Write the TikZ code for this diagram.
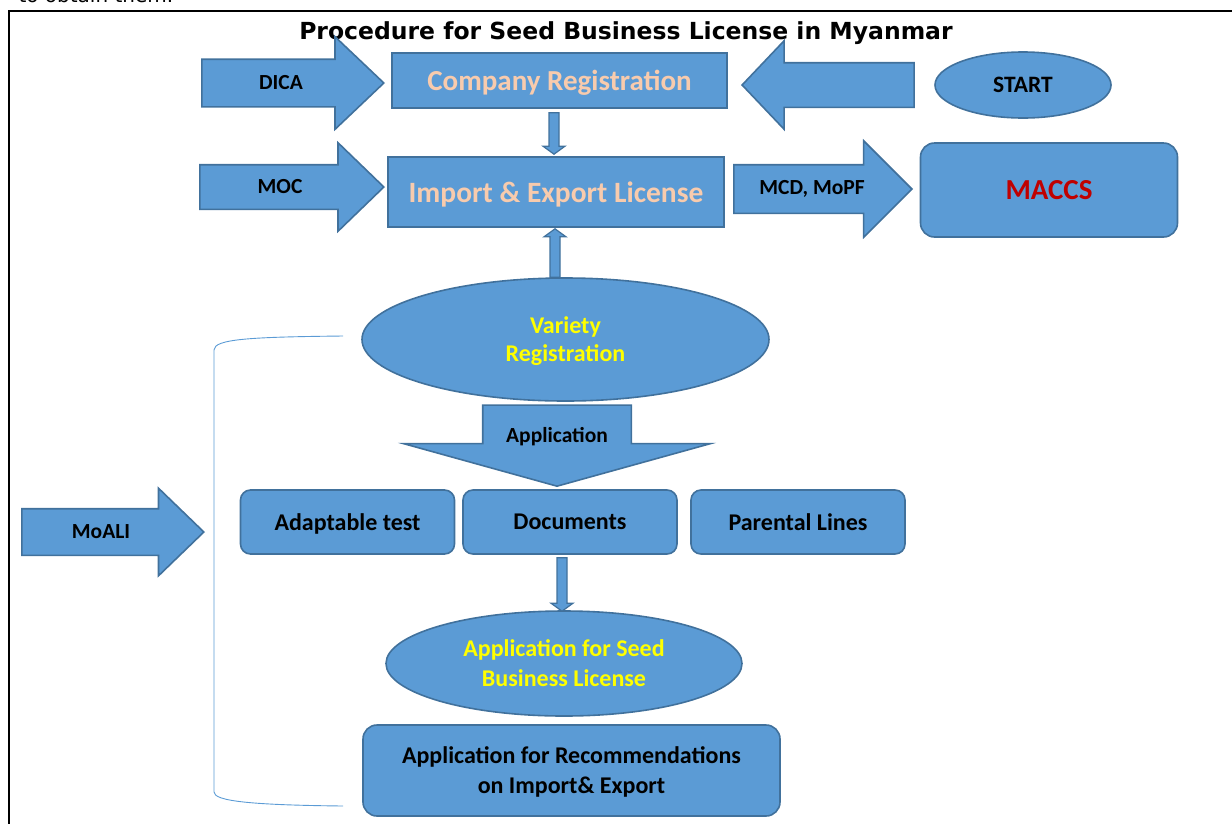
\documentclass[tikz,border=0pt]{standalone}
\usepackage{fontspec}
\setmainfont{Carlito}
\newfontfamily\titlefont{DejaVu Sans}
\usetikzlibrary{positioning,calc,shapes.geometric,shapes.arrows}

\definecolor{boxblue}{HTML}{5B9BD5}
\definecolor{boxedge}{HTML}{41719C}
\definecolor{peach}{HTML}{F8CBAD}
\definecolor{maccsred}{HTML}{C00000}
\definecolor{textyellow}{HTML}{FFFF00}

% small block arrow from #1 to #2
\newcommand{\blockconn}[2]{%
  \coordinate (hb) at ($(#2)!8pt!(#1)$);
  \path[conn] ($(#1)!5pt!-90:(#2)$) -- ($(hb)!5pt!-90:(#2)$) -- ($(hb)!11pt!-90:(#2)$) -- (#2)
    -- ($(hb)!11pt!90:(#2)$) -- ($(hb)!5pt!90:(#2)$) -- ($(#1)!5pt!90:(#2)$) -- cycle;}

\begin{document}
\begin{tikzpicture}[x=1pt,y=-1pt,on grid,
    box/.style={rectangle, fill=boxblue, draw=boxedge, line width=1.6pt, inner sep=0pt, text depth=0pt},
    rbox/.style={box, rounded corners=10pt, minimum width=214pt, minimum height=64pt,
      font=\bfseries\fontsize{24}{28}\selectfont},
    oval/.style={ellipse, fill=boxblue, draw=boxedge, line width=1.6pt, inner sep=0pt, text depth=0pt},
    bigarrow/.style={single arrow, fill=boxblue, draw=boxedge, line width=1.6pt,
      inner xsep=0pt, anchor=tip},
    arrowtext/.style={font=\bfseries\fontsize{21.5}{24}\selectfont},
    conn/.style={fill=boxblue, draw=boxedge, line width=1.2pt},
    bracket/.style={draw=boxblue, line width=0.9pt}]
\useasboundingbox (0,0) rectangle (1232,823);
\draw[line width=2.7pt] (9,840) -- (9,11) -- (1240,11);
\node[anchor=base west, font=\titlefont\fontsize{20}{24}\selectfont] (cut) at (15,2) {to obtain them.};
\node[anchor=base, font=\titlefont\bfseries\fontsize{23.5}{28}\selectfont] (title) at (626,39)
  {Procedure for Seed Business License in Myanmar};

% licences
\node[box, minimum width=335pt, minimum height=55pt, text=peach,
  font=\bfseries\fontsize{29}{34}\selectfont] (compreg) at (559.5,80.5) {Company Registration};
\node[box, minimum width=336pt, minimum height=70pt, text=peach,
  font=\bfseries\fontsize{29.5}{34}\selectfont] (impexp) at (556,192) {Import \& Export License};
\node[box, rounded corners=14pt, minimum width=257pt, minimum height=94pt, text=maccsred,
  font=\bfseries\fontsize{29}{34}\selectfont] (maccs) at (1049,190) {MACCS};
\node[oval, minimum width=176pt, minimum height=66pt,
  font=\bfseries\fontsize{23.5}{26}\selectfont] (start) at (1023,85) {START};

% variety part
\node[oval, minimum width=407pt, minimum height=123pt, text=textyellow, align=center,
  font=\bfseries\fontsize{24}{28}\selectfont] (variety) at (565.5,339.5) {Variety\\Registration};
\node[rbox] (docs) at (570,522) {Documents};
\node[rbox] (adapt) [left=222.5pt of docs] {Adaptable test};
\node[rbox] (parental) [right=228pt of docs] {Parental Lines};
\node[oval, minimum width=356pt, minimum height=105pt, text=textyellow, align=center,
  font=\bfseries\fontsize{24}{30}\selectfont] (seed) at (564,663.5) {Application for Seed\\Business License};
\node[rbox, rounded corners=14pt, minimum width=417pt, minimum height=91pt, align=center,
  font=\bfseries\fontsize{24}{30}\selectfont] (recomm) at (571.5,770.5)
  {Application for Recommendations\\on Import\& Export};

% block arrows
\node[bigarrow, minimum height=182pt, minimum width=91pt, inner ysep=23pt,
  single arrow head extend=22.5pt, single arrow tip angle=87] (dica) at (385,83) {};
\node[bigarrow, shape border rotate=180, minimum height=172pt, minimum width=87pt, inner ysep=21.5pt,
  single arrow head extend=22pt, single arrow tip angle=93] (startarr) at (741,85) {};
\node[bigarrow, minimum height=184pt, minimum width=87pt, inner ysep=21.5pt,
  single arrow head extend=22pt, single arrow tip angle=88] (moc) at (385,187) {};
\node[bigarrow, minimum height=178pt, minimum width=95pt, inner ysep=23.5pt,
  single arrow head extend=24pt, single arrow tip angle=90] (mcd) at (913,189) {};
\node[bigarrow, minimum height=182pt, minimum width=86pt, inner ysep=22.5pt,
  single arrow head extend=20.5pt, single arrow tip angle=88] (moali) at (205,532) {};
\node[bigarrow, shape border rotate=270, minimum height=81pt, minimum width=305pt,
  inner xsep=73.5pt, inner ysep=0pt,
  single arrow head extend=79pt, single arrow tip angle=149] (applic) at (557,487) {};

\node[arrowtext] (dicatext) at ($(dica.tail)+(80,0)$) {DICA};
\node[arrowtext] (moctext) at ($(moc.tail)+(81,0)$) {MOC};
\node[arrowtext] (mcdtext) at ($(mcd.tail)+(79,0)$) {MCD, MoPF};
\node[arrowtext] (moalitext) at ($(moali.tail)+(80,0)$) {MoALI};
\node[arrowtext] (applictext) at ($(applic.tail)+(0,32)$) {Application};

% connectors
\coordinate (c1s) at ($(impexp.north |- compreg.south)+(-2,4)$);
\coordinate (c1e) at ($(impexp.north)+(-2,-2)$);
\coordinate (c2s) at ($(impexp.south |- variety.north)+(-1,0)$);
\coordinate (c2e) at ($(impexp.south)+(-1,1)$);
\coordinate (c3s) at ($(seed.north |- docs.south)+(-2,3)$);
\coordinate (c3e) at ($(seed.north)+(-2,1)$);
\blockconn{c1s}{c1e}
\blockconn{c2s}{c2e}
\blockconn{c3s}{c3e}

% bracket
\coordinate (brtop) at (343,336);
\coordinate (brbot) at (343,806);
\draw[bracket] (brtop) .. controls (250,337) and (214,339) .. (214,350) -- (214,792)
  .. controls (214,801) and (250,805) .. (brbot);
\end{tikzpicture}
\end{document}
